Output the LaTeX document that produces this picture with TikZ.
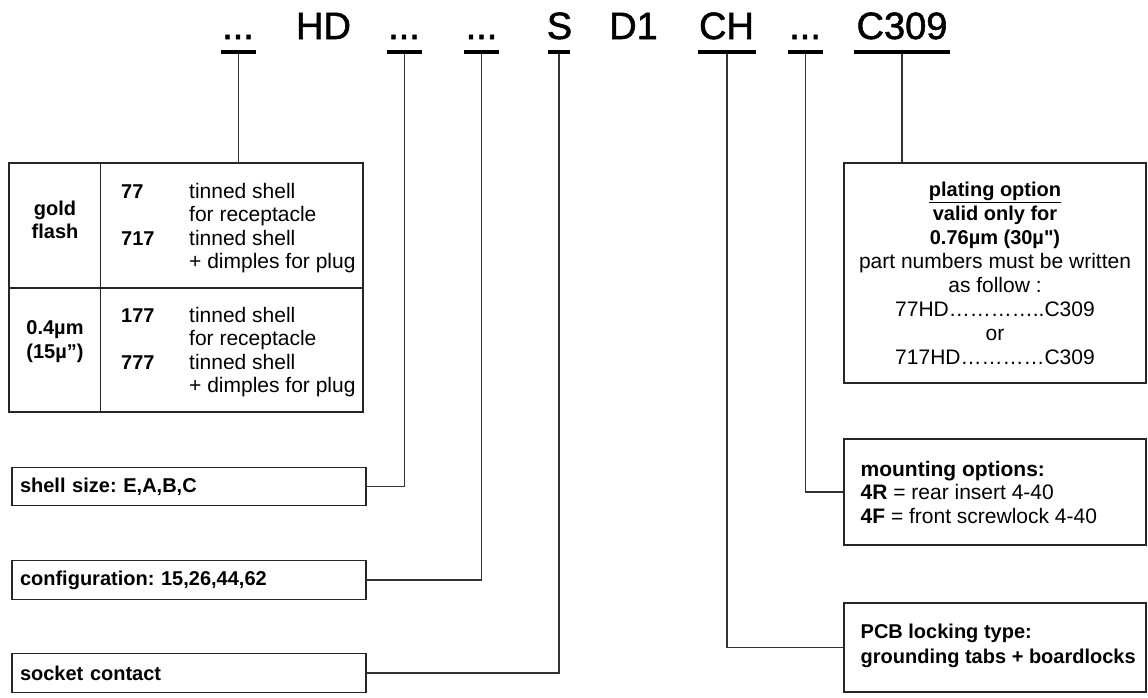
\documentclass[tikz,border=0pt]{standalone}
\usepackage{fontspec}
\setmainfont{Liberation Sans}
\newfontfamily\hdrfont[FakeBold=1.4]{Liberation Sans}
\newfontfamily\plainfont{Liberation Sans}
\frenchspacing
\begin{document}
\begin{tikzpicture}[x=1pt,y=-1pt,
  hdr/.style={font=\hdrfont\fontsize{38}{40}\selectfont, anchor=base, inner sep=0},
  ul/.style={fill=black, draw=none, inner sep=0, minimum height=4, minimum width=#1},
  box/.style={draw=black!85, line width=1.1pt, inner sep=0},
  conn/.style={draw=black!80, line width=1.1pt},
  tb/.style={font=\bfseries\fontsize{20}{22}\selectfont, anchor=base, inner sep=0},
  tt/.style={font=\fontsize{21}{22}\selectfont, anchor=base west, inner sep=0},
  tn/.style={font=\bfseries\fontsize{20}{22}\selectfont, anchor=base west, inner sep=0},
  leftbox/.style={box, minimum width=354, minimum height=38.5, inner xsep=8, text width=338, align=left, font=\bfseries\fontsize{20}{24}\selectfont},
  rbox/.style={box, minimum width=302},
  rtext/.style={anchor=west, inner sep=0, align=left}
]
\fill[white] (0,0) rectangle (1148,697);
\useasboundingbox (0,0) rectangle (1148,697);

% header
\node[hdr] (h1) at (238,39) {...};
\node[hdr] (h2) at (323.5,39) {HD};
\node[hdr] (h3) at (404,39) {...};
\node[hdr] (h4) at (481.5,39) {...};
\node[hdr] (h5) at (559.5,39) {S};
\node[hdr] (h6) at (633.5,39) {D1};
\node[hdr] (h7) at (726.5,39) {CH};
\node[hdr] (h8) at (805,39) {...};
\node[hdr] (h9) at (902,39) {C309};

\node[ul=35] (u1) at (238.5,52) {};
\node[ul=35] (u3) at (404.5,52) {};
\node[ul=35] (u4) at (481.5,52) {};
\node[ul=22] (u5) at (559,52) {};
\node[ul=58] (u7) at (727,52) {};
\node[ul=35] (u8) at (805.5,52) {};
\node[ul=96] (u9) at (902,52) {};

% table
\node[box, minimum width=354, minimum height=249] (tab) at (186,287.5) {};
\draw[box] ([xshift=92pt]tab.north west) -- ([xshift=92pt]tab.south west);
\draw[box] (tab.west |- 0,288) -- (tab.east |- 0,288);

\node[tb] (g1) at (55,215) {gold};
\node[tb] (g2) at (55,238) {flash};
\node[tb] (g3) at (55,334) {0.4µm};
\node[tb] (g4) at (55,358) {(15µ”)};

\node[tn] (n1) at (121,198) {77};
\node[tt] (t1) at (189,198) {tinned shell};
\node[tt] (t2) at (189,221.5) {for receptacle};
\node[tn] (n2) at (121,245) {717};
\node[tt] (t3) at (189,245) {tinned shell};
\node[tt] (t4) at (189,268.5) {+ dimples for plug};

\node[tn] (n3) at (121,322) {177};
\node[tt] (t5) at (189,322) {tinned shell};
\node[tt] (t6) at (189,345.5) {for receptacle};
\node[tn] (n4) at (121,369) {777};
\node[tt] (t7) at (189,369) {tinned shell};
\node[tt] (t8) at (189,392.5) {+ dimples for plug};

% left boxes
\node[leftbox] (shell) at (189,486.5) {shell size: E,A,B,C};
\node[leftbox] (conf) at (189,580) {configuration: 15,26,44,62};
\node[leftbox] (sock) at (189,673) {socket contact};

% right boxes
\node[box, minimum width=302, minimum height=220, align=center,
      font=\fontsize{21}{24}\selectfont] (plat) at (995,273)
  {{\bfseries\fontsize{20}{24}\selectfont\underline{plating option}}\\
   {\bfseries\fontsize{20}{24}\selectfont valid only for}\\
   {\plainfont\bfseries\fontsize{20}{24}\selectfont 0.76µm (30µ")}\\
   part numbers must be written\\
   as follow :\\
   77HD…………..C309\\
   or\\
   717HD…………C309};
\node[rbox, minimum height=106] (mount) at (995,492) {};
\node[rtext, font=\fontsize{21}{23.5}\selectfont] (mountt) at ([xshift=17pt]mount.west)
  {\textbf{mounting options:}\\
   \textbf{4R} = rear insert 4-40\\
   \textbf{4F} = front screwlock 4-40};
\node[rbox, minimum height=89] (pcb) at (995,647.5) {};
\node[rtext, font=\bfseries\fontsize{20}{25}\selectfont] (pcbt) at ([xshift=17pt,yshift=2pt]pcb.west)
  {PCB locking type:\\
   grounding tabs + boardlocks};

% connectors
\draw[conn] (u1.south) -- (u1.south |- tab.north);
\draw[conn] (u3.south) |- (shell.east);
\draw[conn] (u4.south) |- (conf.east);
\draw[conn] (u5.south) |- (sock.east);
\draw[conn] (u7.south) |- (pcb.west);
\draw[conn] (u8.south) |- (mount.west);
\draw[conn] (u9.south) -- (u9.south |- plat.north);
\end{tikzpicture}
\end{document}
